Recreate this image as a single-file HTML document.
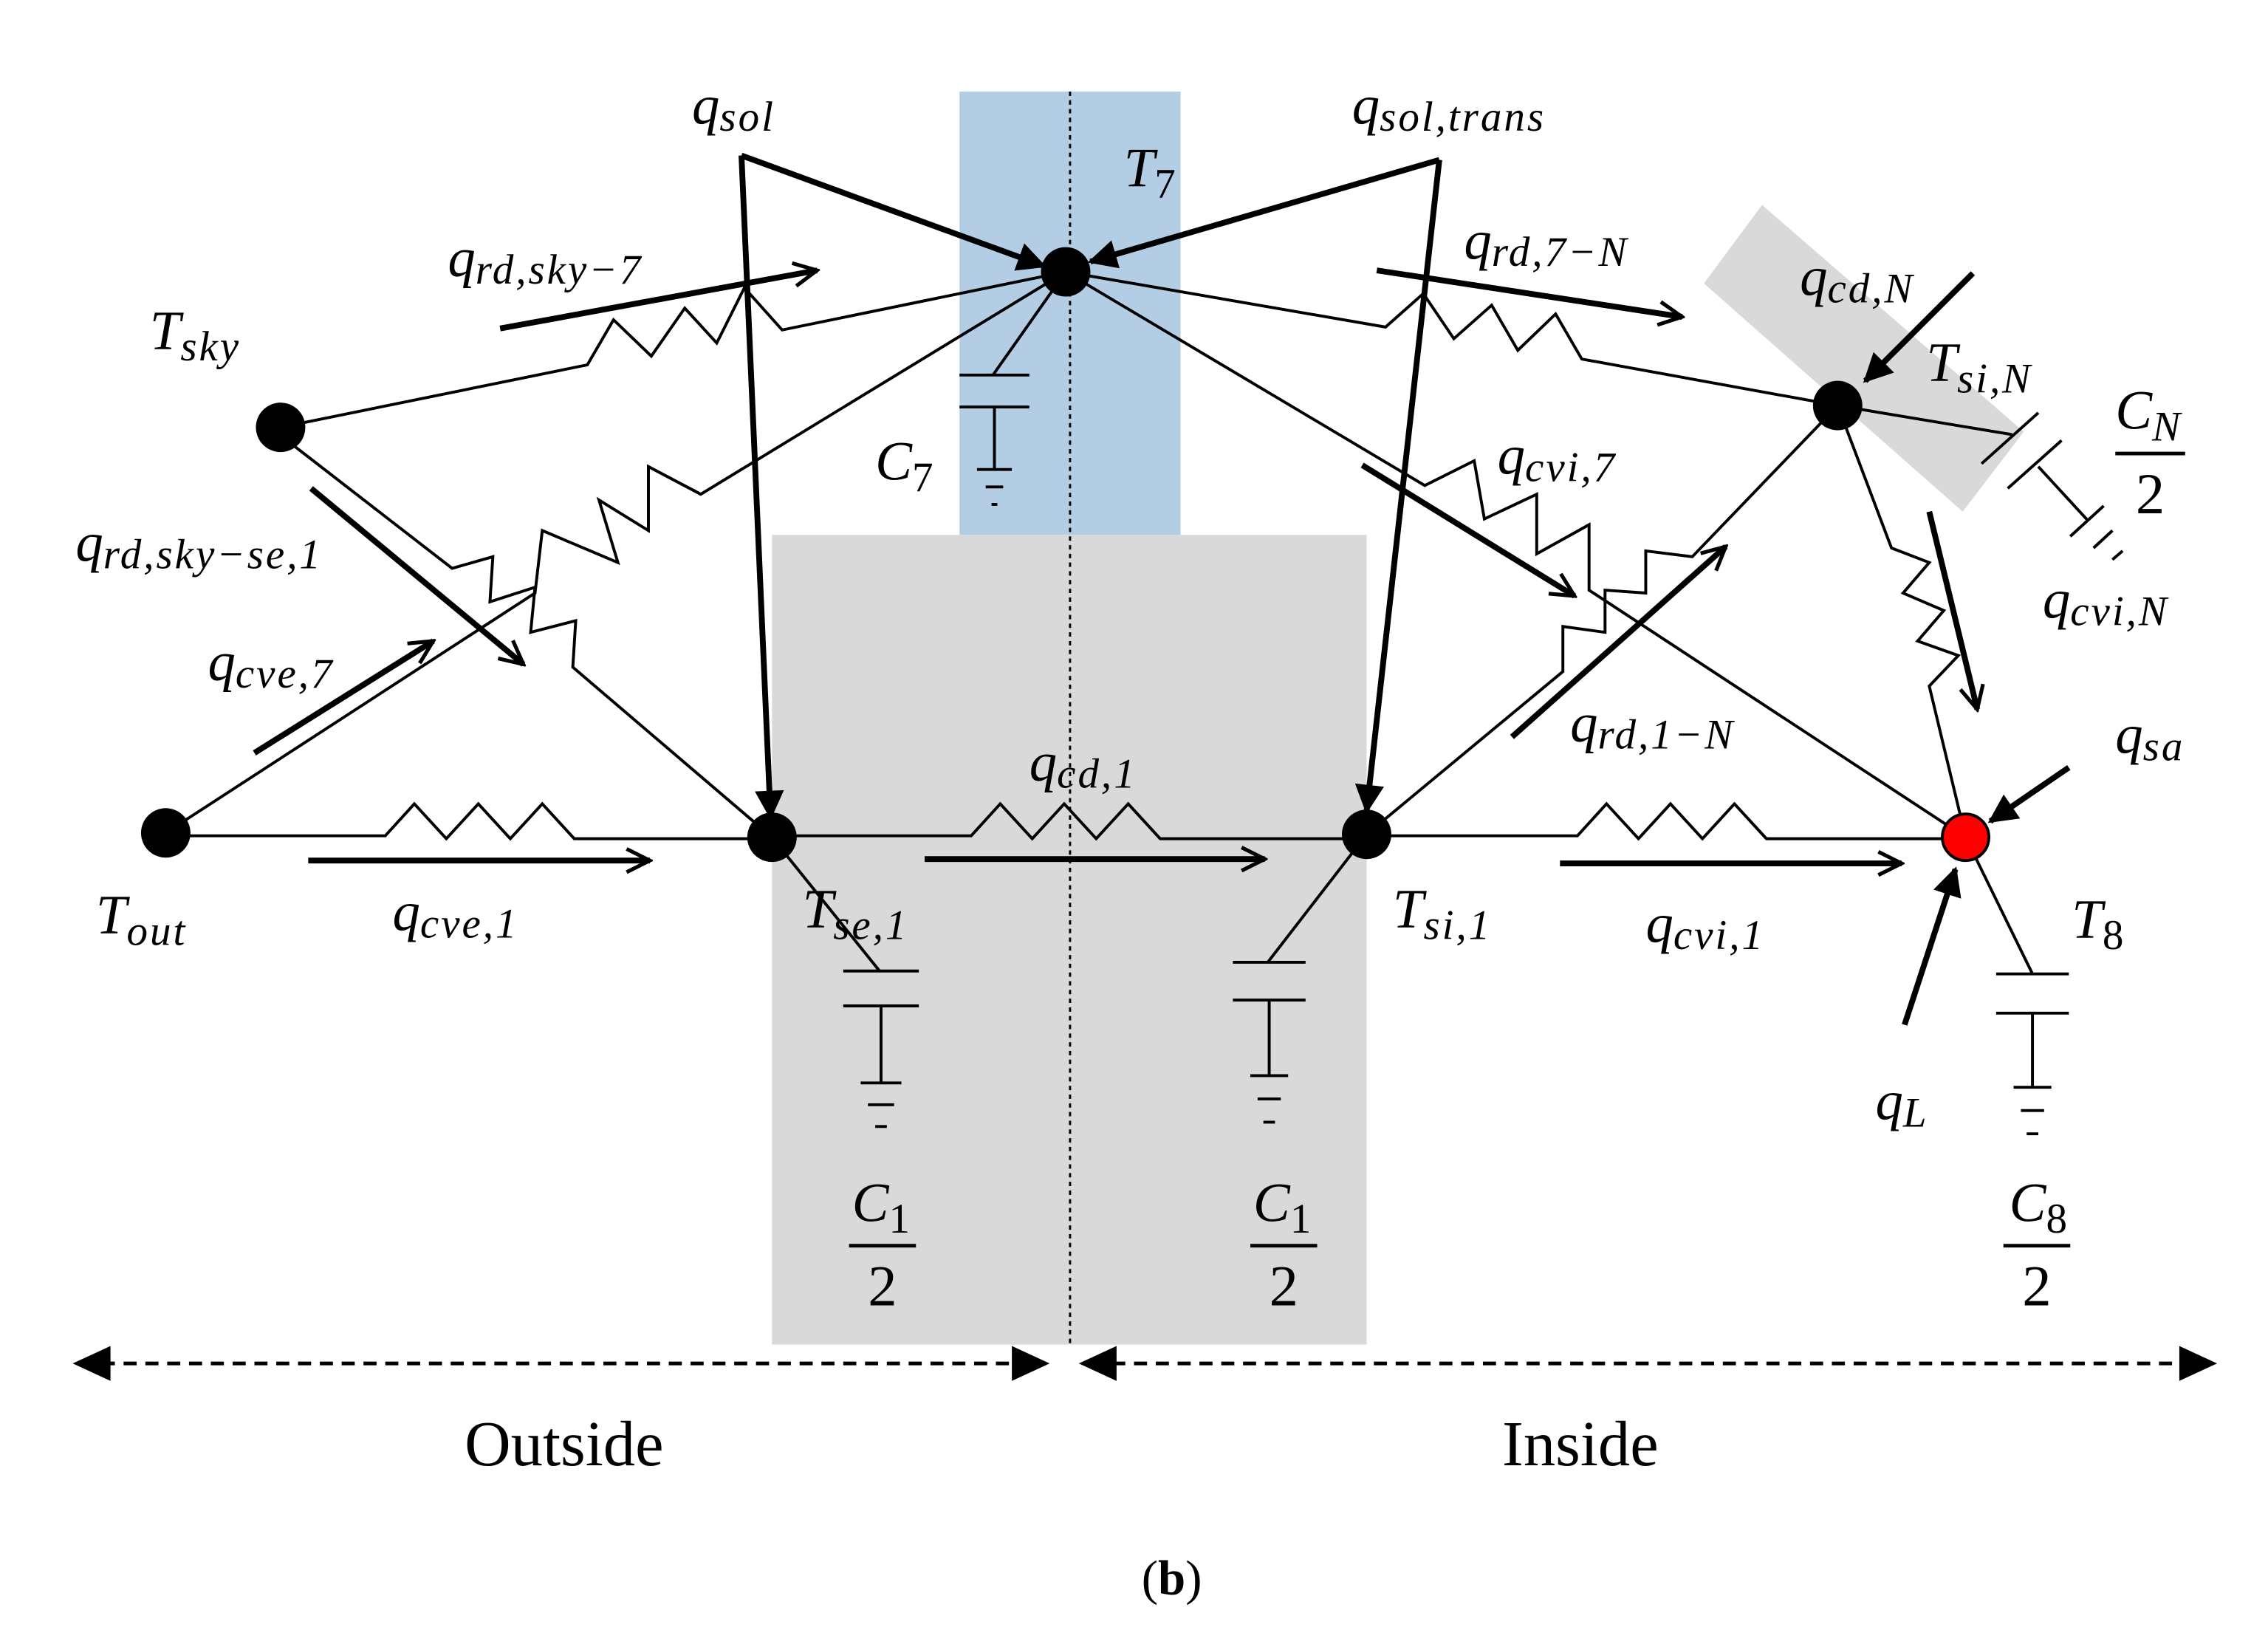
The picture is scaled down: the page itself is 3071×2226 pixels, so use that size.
<!DOCTYPE html>
<html><head><meta charset="utf-8"><style>
html,body{margin:0;padding:0;background:#fff}
svg{display:block}
.m{font-family:"Liberation Serif",serif;font-style:italic;font-size:38px}
.s{font-size:29px;letter-spacing:1.5px}
.n{font-style:normal}
</style></head><body>
<svg width="3071" height="2226" viewBox="0 0 1560 1131" preserveAspectRatio="none" xmlns="http://www.w3.org/2000/svg">
<defs>
<marker id="o" viewBox="0 0 10 10" refX="9" refY="5" markerWidth="5" markerHeight="5" orient="auto" markerUnits="strokeWidth"><path d="M1,1 L9,5 L1,9" fill="none" stroke="#000" stroke-width="1.3"/></marker>
<marker id="f" viewBox="0 0 10 10" refX="9" refY="5" markerWidth="6" markerHeight="5" orient="auto" markerUnits="strokeWidth"><path d="M0,0 L10,5 L0,10 z" fill="#000"/></marker>
</defs>
<rect x="660" y="63" width="152" height="305" fill="#b3cde4"/>
<rect x="531" y="368" width="409" height="557" fill="#d9d9d9"/>
<polygon points="1172,195 1212,141 1392,297 1350,352" fill="#d9d9d9"/>
<line x1="736" y1="63" x2="736" y2="925" stroke="#000" stroke-width="1.5" stroke-dasharray="3,3"/>
<g fill="none" stroke="#000" stroke-width="2">
<path d="M114,575 H265 L285,553 L307,577 L329,553 L351,577 L373,553 L395,577 H531"/>
<path d="M531,575 H668 L688,553 L710,577 L732,553 L754,577 L776,553 L798,577 H940"/>
<path d="M940,575 H1085 L1105,553 L1127,577 L1149,553 L1171,577 L1193,553 L1215,577 H1352"/>
<path d="M193,294 L404,251 L422,220 L448,245 L471,212 L493,236 L512,198 L538,227 L733,187"/>
<path d="M200,305 L311,391 L339,383 L337,414 L368,404 L365,435 L396,427 L394,459 L531,576"/>
<path d="M114,573 L368,408 L373,365 L425,387 L412,344 L446,365 L446,321 L482,340 L733,187"/>
<path d="M733,187 L953,225 L979,202 L1000,233 L1026,210 L1044,241 L1070,216 L1088,247 L1264,279"/>
<path d="M733,187 L980,334 L1014,317 L1021,357 L1057,340 L1057,381 L1093,361 L1093,406 L1352,576"/>
<path d="M940,574 L1075,462 L1075,431 L1104,435 L1104,406 L1132,408 L1132,379 L1164,383 L1264,279"/>
<path d="M1264,279 L1301,377 L1327,387 L1309,408 L1337,420 L1319,441 L1347,451 L1327,472 L1352,576"/>
<path d="M1264,279 L1384,299 M1363,319 L1402,284 M1381,336 L1418,303 M1402,321 L1436,358 M1424,369 L1447,348 M1440,377 L1453,365 M1453,385 L1460,379"/>
<path d="M733,187 L683,258 M660,258 H708 M660,280 H708 M684,280 V323 M672,323 H696 M678,335 H690 M682,347 H686"/>
<path d="M531,576 L605,668 M580,668 H632 M580,692 H632 M606,692 V745 M592,745 H620 M597,760 H615 M602,775 H610"/>
<path d="M940,574 L872,662 M848,662 H898 M848,688 H898 M873,688 V740 M860,740 H886 M865,756 H881 M869,772 H877"/>
<path d="M1352,576 L1398,670 M1373,670 H1423 M1373,697 H1423 M1398,697 V748 M1385,748 H1411 M1390,764 H1406 M1394,780 H1402"/>
</g>
<g fill="none" stroke="#000" stroke-width="4">
<path d="M510,107 L718,183" marker-end="url(#f)"/>
<path d="M510,107 L530,562" marker-end="url(#f)"/>
<path d="M990,110 L750,180" marker-end="url(#f)"/>
<path d="M990,110 L940,558" marker-end="url(#f)"/>
<path d="M1357,188 L1283,262" marker-end="url(#f)"/>
<path d="M1423,528 L1369,565" marker-end="url(#f)"/>
<path d="M1310,705 L1345,598" marker-end="url(#f)"/>
<path d="M344,226 L562,186" marker-end="url(#o)"/>
<path d="M214,336 L360,457" marker-end="url(#o)"/>
<path d="M175,518 L298,441" marker-end="url(#o)"/>
<path d="M212,592 L447,592" marker-end="url(#o)"/>
<path d="M636,591 L870,591" marker-end="url(#o)"/>
<path d="M1073,594 L1308,594" marker-end="url(#o)"/>
<path d="M947,186 L1157,218" marker-end="url(#o)"/>
<path d="M937,320 L1083,410" marker-end="url(#o)"/>
<path d="M1040,507 L1187,376" marker-end="url(#o)"/>
<path d="M1327,352 L1360,488" marker-end="url(#o)"/>
</g>
<g fill="#000">
<ellipse cx="733" cy="187" rx="17" ry="17"/>
<ellipse cx="193" cy="294" rx="17" ry="17"/>
<ellipse cx="114" cy="573" rx="17" ry="17"/>
<ellipse cx="531" cy="576" rx="17" ry="17"/>
<ellipse cx="940" cy="574" rx="17" ry="17"/>
<ellipse cx="1264" cy="279" rx="17" ry="17"/>
</g>
<ellipse cx="1352" cy="576" rx="16" ry="16" fill="#f00" stroke="#000" stroke-width="2"/>
<g fill="none" stroke="#000" stroke-width="2.5" stroke-dasharray="9,6">
<line x1="70" y1="938" x2="700" y2="938"/>
<line x1="765" y1="938" x2="1505" y2="938"/>
</g>
<path d="M50,938 L76,926 L76,950 z M722,938 L696,926 L696,950 z M742,938 L768,926 L768,950 z M1525,938 L1499,926 L1499,950 z" fill="#000"/>
<g class="m">
<text x="476" y="85">q<tspan class="s" dy="5">sol</tspan></text>
<text x="930" y="85">q<tspan class="s" dy="5">sol,trans</tspan></text>
<text x="773" y="128">T<tspan class="s n" dy="8">7</tspan></text>
<text x="308" y="190">q<tspan class="s" dy="5">rd,sky−7</tspan></text>
<text x="103" y="240">T<tspan class="s" dy="8">sky</tspan></text>
<text x="52" y="386">q<tspan class="s" dy="5">rd,sky−se,1</tspan></text>
<text x="143" y="468">q<tspan class="s" dy="5">cve,7</tspan></text>
<text x="66" y="642">T<tspan class="s" dy="8">out</tspan></text>
<text x="270" y="640">q<tspan class="s" dy="5">cve,1</tspan></text>
<text x="708" y="537">q<tspan class="s" dy="5">cd,1</tspan></text>
<text x="552" y="638">T<tspan class="s" dy="8">se,1</tspan></text>
<text x="958" y="638">T<tspan class="s" dy="8">si,1</tspan></text>
<text x="1132" y="648">q<tspan class="s" dy="5">cvi,1</tspan></text>
<text x="1080" y="510">q<tspan class="s" dy="5">rd,1−N</tspan></text>
<text x="1030" y="326">q<tspan class="s" dy="5">cvi,7</tspan></text>
<text x="1007" y="178">q<tspan class="s" dy="5">rd,7−N</tspan></text>
<text x="1238" y="203">q<tspan class="s" dy="5">cd,N</tspan></text>
<text x="1325" y="262">T<tspan class="s" dy="8">si,N</tspan></text>
<text x="1405" y="425">q<tspan class="s" dy="5">cvi,N</tspan></text>
<text x="1455" y="518">q<tspan class="s" dy="5">sa</tspan></text>
<text x="1425" y="645">T<tspan class="s n" dy="8">8</tspan></text>
<text x="1290" y="770">q<tspan class="s" dy="5">L</tspan></text>
<text x="602" y="330">C<tspan class="s n" dy="8">7</tspan></text>
<text x="1455" y="295">C<tspan class="s" dy="8">N</tspan></text>
<text x="1382" y="840">C<tspan class="s n" dy="8">8</tspan></text>
<text x="586" y="840">C<tspan class="s n" dy="8">1</tspan></text>
<text x="862" y="840">C<tspan class="s n" dy="8">1</tspan></text>
</g>
<g font-family="Liberation Serif,serif" font-size="40" text-anchor="middle">
<text x="1479" y="353">2</text>
<text x="1401" y="898">2</text>
<text x="607" y="898">2</text>
<text x="883" y="898">2</text>
</g>
<g stroke="#000" stroke-width="2.5">
<line x1="1455" y1="312" x2="1503" y2="312"/>
<line x1="1378" y1="857" x2="1424" y2="857"/>
<line x1="584" y1="857" x2="630" y2="857"/>
<line x1="860" y1="857" x2="906" y2="857"/>
</g>
<g font-family="Liberation Serif,serif" font-size="44" text-anchor="middle">
<text x="388" y="1008">Outside</text>
<text x="1087" y="1008">Inside</text>
</g>
<text x="806" y="1097" font-family="Liberation Serif,serif" font-size="34" text-anchor="middle">(<tspan font-weight="bold">b</tspan>)</text>
</svg>
</body></html>
